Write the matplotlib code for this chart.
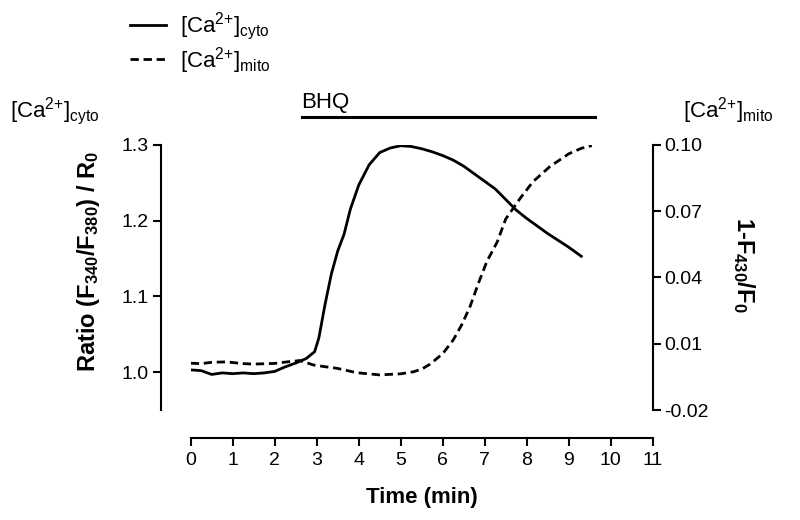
import matplotlib
matplotlib.use("Agg")
import matplotlib.pyplot as plt
import matplotlib.transforms as mtransforms

plt.rcParams["font.family"] = ["Liberation Sans", "DejaVu Sans"]
plt.rcParams["mathtext.fontset"] = "custom"
plt.rcParams["mathtext.rm"] = "Liberation Sans"
plt.rcParams["mathtext.it"] = "Liberation Sans:italic"
plt.rcParams["mathtext.bf"] = "Liberation Sans:bold"
plt.rcParams["mathtext.default"] = "regular"

# cytosolic Ca2+ (fura-2 ratio, left axis)
cyto_time = [0.0, 0.25, 0.5, 0.75, 1.0, 1.25, 1.5, 1.75, 2.0, 2.25, 2.5, 2.75,
             2.95, 3.05, 3.2, 3.35, 3.5, 3.65, 3.8, 4.0, 4.25, 4.5, 4.75, 5.0,
             5.25, 5.5, 5.75, 6.0, 6.25, 6.5, 6.75, 7.0, 7.25, 7.5, 7.75, 8.0,
             8.25, 8.5, 8.75, 9.0, 9.3]
cyto_ratio = [1.003, 1.002, 0.997, 0.999, 0.998, 0.999, 0.998, 0.999, 1.001,
              1.007, 1.012, 1.018, 1.027, 1.045, 1.090, 1.130, 1.160, 1.182,
              1.215, 1.247, 1.274, 1.290, 1.296, 1.299, 1.298, 1.295, 1.291,
              1.286, 1.280, 1.272, 1.262, 1.252, 1.242, 1.228, 1.214, 1.203,
              1.193, 1.183, 1.174, 1.165, 1.153]

# mitochondrial Ca2+ (right axis)
mito_time = [0.0, 0.25, 0.5, 0.85, 1.25, 1.5, 2.0, 2.3, 2.6, 2.92, 3.2, 3.48,
             3.95, 4.5, 5.0, 5.3, 5.5, 5.7, 6.0, 6.25, 6.45, 6.65, 6.85, 7.05,
             7.3, 7.5, 7.85, 8.15, 8.55, 9.0, 9.3, 9.55]
mito_val = [0.0012, 0.0010, 0.0016, 0.0018, 0.0010, 0.0008, 0.0011, 0.0018,
            0.0024, 0.0004, -0.0004, -0.0011, -0.0031, -0.0041, -0.0036,
            -0.0027, -0.0015, 0.0008, 0.0055, 0.0117, 0.0185, 0.0268, 0.0374,
            0.0472, 0.0562, 0.0665, 0.0760, 0.0834, 0.0902, 0.0960, 0.0985,
            0.0997]

bhq_start, bhq_end = 2.64, 9.63

left_ticks = [1.0, 1.1, 1.2, 1.3]
right_ticks = [-0.02, 0.01, 0.04, 0.07, 0.10]
x_ticks = list(range(0, 12))

cyto_lbl = r"[Ca$^{2{+}}$]$_{cyto}$"
mito_lbl = r"[Ca$^{2{+}}$]$_{mito}$"

fig = plt.figure(figsize=(8, 5.2), dpi=100)
ax = fig.add_axes([0.2384, 0.2115, 0.5775, 0.5097])
ax2 = ax.twinx()

line_cyto, = ax.plot(cyto_time, cyto_ratio, color="black", lw=2,
                     label=cyto_lbl)
line_mito, = ax2.plot(mito_time, mito_val, color="black", lw=2,
                      linestyle=(0, (3, 1.7)), label=mito_lbl)

ax.set_xlim(0, 11)
ax.set_ylim(0.95, 1.3)
ax2.set_ylim(-0.02, 0.10)

for s in ["top", "right"]:
    ax.spines[s].set_visible(False)
for s in ["top", "left", "bottom"]:
    ax2.spines[s].set_visible(False)
ax.spines["left"].set_position(("outward", 21.6))
ax.spines["bottom"].set_position(("outward", 20.2))
for sp in [ax.spines["left"], ax.spines["bottom"], ax2.spines["right"]]:
    sp.set_linewidth(1.5)

ax.set_xticks(x_ticks)
ax.set_yticks(left_ticks)
ax.set_yticklabels([f"{v:.1f}" for v in left_ticks])
ax2.set_yticks(right_ticks)
ax2.set_yticklabels([f"{v:.2f}" for v in right_ticks])
ax.tick_params(axis="both", labelsize=14, width=1.5, length=6)
ax.tick_params(axis="x", pad=4)
ax.tick_params(axis="y", pad=3)
ax2.tick_params(axis="y", labelsize=14, width=1.5, length=6, pad=2)

ax.set_xlabel("Time (min)", fontsize=16, fontweight="bold")
ax.xaxis.set_label_coords(0.5, -0.29)
ax.set_ylabel(r"Ratio (F$_{340}$/F$_{380}$) / R$_0$", fontsize=17,
              fontweight="bold")
ax.yaxis.set_label_coords(-0.192, 0.56)
ax2.set_ylabel(r"1-F$_{430}$/F$_0$", fontsize=17, fontweight="bold",
               rotation=270)
ax2.yaxis.set_label_coords(1.226, 0.547)

# BHQ application bar
trans = mtransforms.blended_transform_factory(ax.transData, ax.transAxes)
ax.plot([bhq_start, bhq_end], [1.107, 1.107], transform=trans, color="black",
        lw=2.2, clip_on=False)
ax.text(bhq_start, 1.14, "BHQ", transform=trans, fontsize=16,
        ha="left", va="baseline")

fig.text(0.0125, 0.775, cyto_lbl, fontsize=16, va="baseline")
fig.text(0.854, 0.775, mito_lbl, fontsize=16, va="baseline")

ax.legend(handles=[line_cyto, line_mito], loc="upper left",
          bbox_to_anchor=(0.1625, 0.98), bbox_transform=fig.transFigure,
          frameon=False, fontsize=16, handlelength=1.62, handletextpad=0.63,
          borderpad=0, borderaxespad=0, labelspacing=0.1)

fig.savefig("out.png", dpi=100)
